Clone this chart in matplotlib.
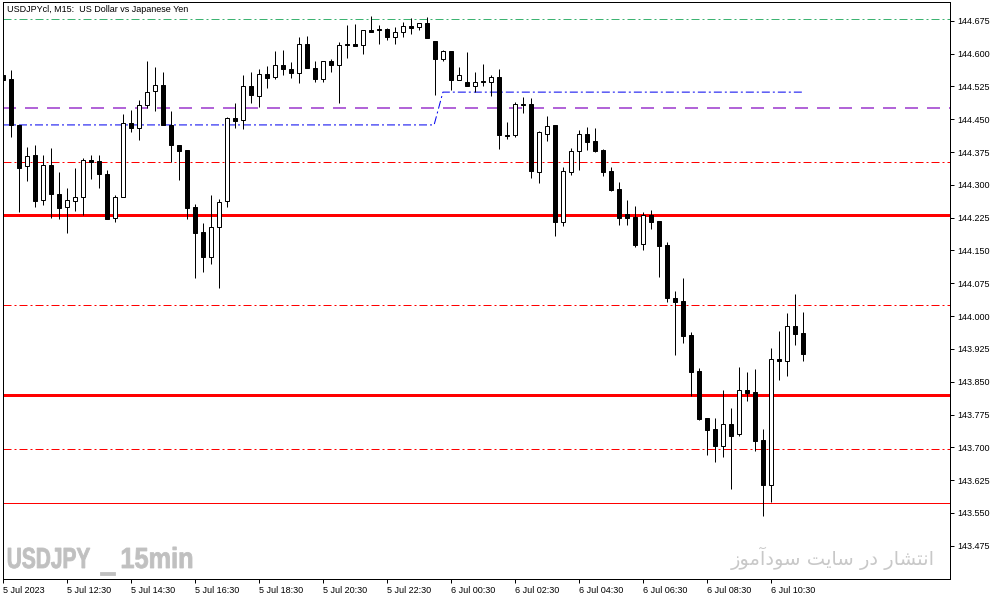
import matplotlib
matplotlib.use("Agg")
import matplotlib.pyplot as plt
import numpy as np
from matplotlib.textpath import TextPath
from matplotlib.patches import PathPatch
from matplotlib.font_manager import FontProperties
from matplotlib.transforms import Affine2D

# USDJPY M15 candles, 5 Jul 2023 10:30 .. 6 Jul 2023 11:30
opens = [144.552, 144.542, 144.436, 144.342, 144.368, 144.265, 144.345, 144.279, 144.249, 144.263,
         144.272, 144.357, 144.355, 144.325, 144.224, 144.272, 144.441, 144.431, 144.482, 144.514,
         144.528, 144.436, 144.391, 144.380, 144.250, 144.193, 144.136, 144.203, 144.262, 144.453,
         144.448, 144.526, 144.504, 144.554, 144.546, 144.574, 144.565, 144.555, 144.622, 144.567,
         144.543, 144.584, 144.574, 144.622, 144.622, 144.619, 144.654, 144.656, 144.656, 144.638,
         144.649, 144.663, 144.661, 144.670, 144.629, 144.587, 144.606, 144.539, 144.535, 144.527,
         144.538, 144.535, 144.547, 144.414, 144.413, 144.485, 144.485, 144.330, 144.416, 144.437,
         144.216, 144.330, 144.378, 144.417, 144.401, 144.380, 144.332, 144.291, 144.234, 144.227,
         144.164, 144.231, 144.218, 144.163, 144.042, 144.035, 143.957, 143.875, 143.767, 143.742,
         143.702, 143.754, 143.731, 143.831, 143.827, 143.717, 143.614, 143.902, 143.898, 143.978,
         143.962]
highs = [144.560, 144.563, 144.437, 144.386, 144.391, 144.368, 144.384, 144.329, 144.293, 144.339,
         144.361, 144.369, 144.369, 144.334, 144.277, 144.462, 144.471, 144.494, 144.584, 144.570,
         144.558, 144.468, 144.391, 144.380, 144.257, 144.213, 144.277, 144.268, 144.455, 144.487,
         144.551, 144.558, 144.565, 144.572, 144.606, 144.609, 144.581, 144.638, 144.641, 144.583,
         144.583, 144.588, 144.627, 144.666, 144.668, 144.654, 144.685, 144.666, 144.659, 144.661,
         144.673, 144.681, 144.670, 144.683, 144.629, 144.609, 144.606, 144.569, 144.603, 144.558,
         144.576, 144.551, 144.565, 144.443, 144.490, 144.500, 144.498, 144.424, 144.458, 144.437,
         144.341, 144.384, 144.426, 144.433, 144.430, 144.382, 144.340, 144.306, 144.266, 144.252,
         144.238, 144.243, 144.218, 144.170, 144.058, 144.087, 143.964, 143.882, 143.767, 143.767,
         143.832, 143.791, 143.884, 143.872, 143.879, 143.741, 143.927, 143.967, 144.006, 144.051,
         144.010]
lows = [144.535, 144.410, 144.237, 144.308, 144.250, 144.253, 144.225, 144.222, 144.191, 144.241,
        144.230, 144.314, 144.292, 144.221, 144.216, 144.272, 144.420, 144.403, 144.475, 144.468,
        144.436, 144.353, 144.310, 144.223, 144.088, 144.100, 144.119, 144.065, 144.250, 144.431,
        144.427, 144.488, 144.478, 144.522, 144.543, 144.552, 144.545, 144.533, 144.566, 144.534,
        144.534, 144.557, 144.486, 144.591, 144.618, 144.598, 144.650, 144.621, 144.630, 144.621,
        144.639, 144.645, 144.653, 144.635, 144.506, 144.584, 144.517, 144.539, 144.527, 144.513,
        144.526, 144.502, 144.381, 144.405, 144.409, 144.465, 144.315, 144.305, 144.401, 144.182,
        144.206, 144.323, 144.334, 144.380, 144.376, 144.321, 144.287, 144.209, 144.209, 144.159,
        144.152, 144.198, 144.090, 144.033, 143.910, 143.939, 143.818, 143.763, 143.683, 143.667,
        143.677, 143.605, 143.725, 143.806, 143.692, 143.542, 143.576, 143.853, 143.862, 143.934,
        143.898]
closes = [144.540, 144.437, 144.338, 144.367, 144.264, 144.345, 144.278, 144.248, 144.265, 144.272,
          144.357, 144.353, 144.324, 144.221, 144.273, 144.441, 144.431, 144.482, 144.512, 144.528,
          144.436, 144.391, 144.378, 144.248, 144.191, 144.136, 144.203, 144.260, 144.453, 144.445,
          144.526, 144.505, 144.553, 144.545, 144.574, 144.564, 144.555, 144.622, 144.566, 144.543,
          144.583, 144.574, 144.619, 144.619, 144.618, 144.654, 144.650, 144.653, 144.639, 144.649,
          144.663, 144.658, 144.670, 144.635, 144.587, 144.606, 144.539, 144.551, 144.527, 144.535,
          144.535, 144.546, 144.413, 144.411, 144.485, 144.483, 144.331, 144.421, 144.434, 144.216,
          144.331, 144.378, 144.417, 144.399, 144.378, 144.330, 144.289, 144.225, 144.225, 144.163,
          144.231, 144.216, 144.161, 144.041, 144.033, 143.955, 143.873, 143.765, 143.740, 143.704,
          143.754, 143.725, 143.831, 143.825, 143.715, 143.614, 143.901, 143.898, 143.977, 143.959,
          143.914]

# horizontal levels drawn on the chart
levels = [144.679, 144.475, 144.352, 144.230, 144.026, 143.820, 143.696, 143.572]
level_colors = ['#3cb371', '#9932cc', 'red', 'red', 'red', 'red', 'red', 'red']
level_styles = ['dashdot', 'dashed', 'dashdot', 'solid', 'dashdot', 'solid', 'dashdot', 'solid']
level_widths = [1, 1.5, 1, 3, 1, 3, 1, 1]

# blue step line (bar index, price)
blue_bars = [0, 53.9, 55.0, 100]
blue_prices = [144.437, 144.437, 144.512, 144.512]

price_ticks = [144.675, 144.600, 144.525, 144.450, 144.375, 144.300, 144.225, 144.150, 144.075,
               144.000, 143.925, 143.850, 143.775, 143.700, 143.625, 143.550, 143.475]
time_ticks = [0, 8, 16, 24, 32, 40, 48, 56, 64, 72, 80, 88, 96]
time_labels = ['5 Jul 2023', '5 Jul 12:30', '5 Jul 14:30', '5 Jul 16:30', '5 Jul 18:30',
               '5 Jul 20:30', '5 Jul 22:30', '6 Jul 00:30', '6 Jul 02:30', '6 Jul 04:30',
               '6 Jul 06:30', '6 Jul 08:30', '6 Jul 10:30']

title = 'USDJPYcl, M15:  US Dollar vs Japanese Yen'
watermark_parts = ['USDJPY', '_', '15min']
# "انتشار در سایت سودآموز" in presentation forms, visual order
persian = ('\uFEAF\uFEEE\uFEE3\uFE81\uFEA9\uFEEE\uFEB3 \uFE96\uFEF3\uFE8E\uFEB3 '
           '\uFEAD\uFEA9 \uFEAD\uFE8E\uFEB8\uFE98\uFEE7\uFE8D')

plt.rcParams['font.family'] = ['Liberation Sans', 'DejaVu Sans']
plt.rcParams['lines.scale_dashes'] = False
PX = 0.72  # one pixel in points at dpi 100

fig = plt.figure(figsize=(10.03, 6), dpi=100)
ax = fig.add_axes([3 / 1003, 21 / 600, 947 / 1003, 577 / 600])

dash_map = {'dashdot': (0, (8 * PX, 3 * PX, 2 * PX, 3 * PX)),
            'dashed': (0, (13 * PX, 9 * PX)),
            'solid': '-'}
for lv, c, s, w in zip(levels, level_colors, level_styles, level_widths):
    ax.axhline(lv, color=c, lw=w * PX, linestyle=dash_map[s], zorder=1)
ax.plot(blue_bars, blue_prices, color='#0000ee', lw=PX, linestyle=dash_map['dashdot'], zorder=1)

o = np.array(opens)
c = np.array(closes)
x = np.arange(len(o))
up = c > o
ax.vlines(x, lows, highs, color='black', lw=PX, zorder=3)
ax.bar(x, np.abs(c - o), bottom=np.minimum(o, c), width=0.5,
       color=np.where(up, 'white', 'black'), edgecolor='black', linewidth=PX, zorder=4)

ax.set_xlim(0, 118.4)
ax.set_ylim(143.399, 144.718)

ax.yaxis.tick_right()
ax.set_yticks(price_ticks)
ax.set_yticklabels(['%.3f' % p for p in price_ticks])
ax.set_xticks(time_ticks)
ax.set_xticklabels(time_labels, ha='left')
ax.tick_params(axis='both', direction='out', length=3, width=PX, labelsize=6.5, pad=2)
for sp in ax.spines.values():
    sp.set_linewidth(PX)

fig.text(7 / 1003, 1 - 10 / 600, title, ha='left', va='center', fontsize=6.5)

# condensed heavy watermark: squeeze each text path into its pixel box
bold = FontProperties(family='Liberation Sans', weight='bold')
cap_h = TextPath((0, 0), 'U', size=100, prop=bold).get_extents().y1
sy = 20.0 / cap_h
for part, (x0, x1) in zip(watermark_parts, [(8, 90), (100, 115), (122, 192)]):
    tp = TextPath((0, 0), part, size=100, prop=bold)
    ext = tp.get_extents()
    sx = (x1 - x0) / ext.width
    tr = Affine2D().translate(-ext.x0, 0).scale(sx, sy).translate(x0, 600 - 568)
    if part == '_':
        tr = Affine2D().translate(-ext.x0, -ext.y1).scale(sx, 3.0 / ext.height).translate(x0, 600 - 572)
    fig.add_artist(PathPatch(tr.transform_path(tp), facecolor='#c0c0c0', edgecolor='#c0c0c0',
                             lw=0.6, transform=None))

fig.text(935 / 1003, 1 - 565 / 600, persian, ha='right', va='baseline', fontsize=14,
         color='#c8c8c8', family='DejaVu Sans')

fig.savefig('out.png', dpi=100)
